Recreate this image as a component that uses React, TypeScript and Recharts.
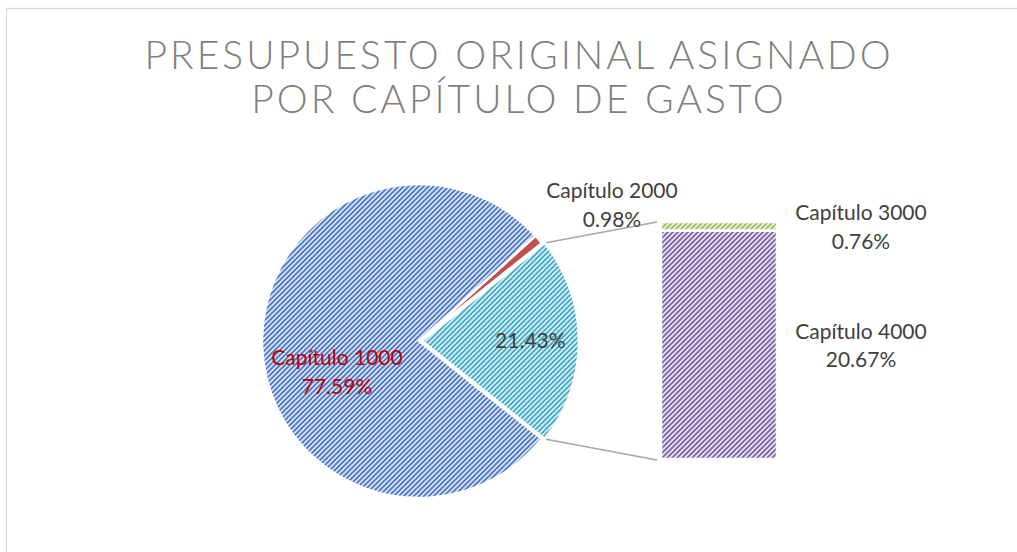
import React from 'react';
import { PieChart, Pie, Cell, BarChart, Bar, XAxis, YAxis, LabelList } from 'recharts';

// main pie slices (the rest goes into the "Otros" slice, split in the bar)
const MAIN_NAMES = ['Capítulo 2000', 'Capítulo 1000'];
const MAIN_VALUES = [0.98, 77.59];
// secondary stacked bar, bottom to top
const SUB_NAMES = ['Capítulo 4000', 'Capítulo 3000'];
const SUB_VALUES = [20.67, 0.76];
const OTHER_NAME = 'Otros';
const TITLE_LINES = ['PRESUPUESTO ORIGINAL ASIGNADO', 'POR CAPÍTULO DE GASTO'];

const W = 1017;
const H = 552;
const PIE_CX = 419;
const PIE_CY = 341;
const PIE_R = 157;
const EXPLODE = 3;
const BAR_LEFT = 661;
const BAR_RIGHT = 777;
const BAR_TOP = 222;
const BAR_BOTTOM = 459;

const FONT = 'Lato, "Noto Sans", sans-serif';
const TEXT = '#404040';

const otherTotal = SUB_VALUES.reduce((a, b) => a + b, 0);
const grandTotal = otherTotal + MAIN_VALUES.reduce((a, b) => a + b, 0);
const pieData = [
  { name: OTHER_NAME, value: otherTotal },
  ...MAIN_NAMES.map((name, i) => ({ name, value: MAIN_VALUES[i] })),
];
const barData = [
  SUB_NAMES.reduce((row: Record<string, number | string>, n, i) => ({ ...row, [n]: SUB_VALUES[i] }), { cat: OTHER_NAME }),
];
// the "Otros" slice is centred on 3 o'clock
const START_ANGLE = -(otherTotal / grandTotal) * 180;

const FILLS: Record<string, string> = {
  'Capítulo 1000': 'url(#hatch-blue)',
  'Capítulo 2000': '#c0504d',
  [OTHER_NAME]: 'url(#hatch-teal)',
  'Capítulo 3000': 'url(#hatch-green)',
  'Capítulo 4000': 'url(#hatch-purple)',
};

// where Excel put the outside / best-fit labels, relative to the pie centre
const LABEL_SPOT: Record<string, { dx: number; dy: number; color: string }> = {
  'Capítulo 1000': { dx: -82, dy: 24, color: '#c00000' },
  'Capítulo 2000': { dx: 193, dy: -143, color: TEXT },
};

const pct = (v: number) => `${((v / grandTotal) * 100).toFixed(2)}%`;

const Hatch = ({ id, bg, fg }: { id: string; bg: string; fg: string }) => (
  <pattern id={id} patternUnits="userSpaceOnUse" width={5} height={5}>
    <rect width={5} height={5} fill={bg} />
    <path d="M-1,1 l2,-2 M0,5 l5,-5 M4,6 l2,-2" stroke={fg} strokeWidth={1.7} />
  </pattern>
);

const TwoLines = ({ x, y, a, b, color }: { x: number; y: number; a: string; b: string; color: string }) => (
  <text x={x} y={y} textAnchor="middle" fill={color} fontSize={21} fontFamily={FONT}>
    <tspan x={x} dy={0}>{a}</tspan>
    <tspan x={x} dy={28.5}>{b}</tspan>
  </text>
);

// eslint-disable-next-line @typescript-eslint/no-explicit-any
const mainLabel = (p: any) => {
  const spot = LABEL_SPOT[p.name];
  if (!spot) return null;
  return <TwoLines x={p.cx + spot.dx} y={p.cy + spot.dy} a={p.name} b={pct(p.value)} color={spot.color} />;
};

// eslint-disable-next-line @typescript-eslint/no-explicit-any
const otherLabel = (p: any) => {
  if (p.name !== OTHER_NAME) return null;
  const r = p.outerRadius * 0.69;
  const rad = (-p.midAngle * Math.PI) / 180;
  return (
    <text x={p.cx + r * Math.cos(rad)} y={p.cy + r * Math.sin(rad) + 7} textAnchor="middle" fill={TEXT} fontSize={21} fontFamily={FONT}>
      {pct(p.value)}
    </text>
  );
};

const barLabel = (name: string) =>
  // eslint-disable-next-line @typescript-eslint/no-explicit-any
  (p: any) => {
    const cy = p.y + p.height / 2;
    return <TwoLines x={p.x + p.width + 84} y={cy - 6} a={name} b={pct(p.value)} color={TEXT} />;
  };

// connector lines from the exploded slice corners to the bar corners
const cornerAngle = (otherTotal / grandTotal) * Math.PI;
const cornerX = PIE_CX + EXPLODE + PIE_R * Math.cos(cornerAngle);
const cornerDy = PIE_R * Math.sin(cornerAngle);

const NO_MARGIN = { top: 0, right: 0, bottom: 0, left: 0 };

export default function App() {
  return (
    <div style={{ position: 'absolute', left: 0, top: 0, width: W, height: H, overflow: 'hidden', background: '#fff' }}>
      <svg width={W} height={H} style={{ position: 'absolute', left: 0, top: 0 }}>
        <defs>
          <Hatch id="hatch-blue" bg="#d9e2f3" fg="#4a76c6" />
          <Hatch id="hatch-teal" bg="#d7eef4" fg="#3fa9c6" />
          <Hatch id="hatch-green" bg="#e8f0da" fg="#9bbb59" />
          <Hatch id="hatch-purple" bg="#e5dfec" fg="#7f62a5" />
        </defs>
        <rect x={6.5} y={8.5} width={W + 20} height={H + 20} fill="none" stroke="#d9d9d9" strokeWidth={1.3} />
        {TITLE_LINES.map((t, i) => (
          <text key={t} x={519} y={69 + i * 44} textAnchor="middle" fill="#7f7f7f" fontSize={39} fontWeight={300} fontFamily={FONT} letterSpacing={3}>
            {t}
          </text>
        ))}
        <line x1={cornerX} y1={PIE_CY - cornerDy} x2={BAR_LEFT - 4} y2={BAR_TOP} stroke="#a6a6a6" strokeWidth={1.5} />
        <line x1={cornerX} y1={PIE_CY + cornerDy} x2={BAR_LEFT - 4} y2={BAR_BOTTOM + 1} stroke="#a6a6a6" strokeWidth={1.5} />
      </svg>
      <div style={{ position: 'absolute', left: 0, top: 0 }}>
        <PieChart width={W} height={H} margin={NO_MARGIN}>
          <Pie
            data={pieData}
            dataKey="value"
            nameKey="name"
            cx={PIE_CX}
            cy={PIE_CY}
            outerRadius={PIE_R}
            startAngle={START_ANGLE}
            endAngle={START_ANGLE + 360}
            label={mainLabel}
            labelLine={false}
            isAnimationActive={false}
          >
            {pieData.map((d) => (
              <Cell
                key={d.name}
                fill={d.name === OTHER_NAME ? 'transparent' : FILLS[d.name]}
                stroke={d.name === OTHER_NAME ? 'none' : '#fff'}
                strokeWidth={2.5}
              />
            ))}
          </Pie>
          <Pie
            data={pieData}
            dataKey="value"
            nameKey="name"
            cx={PIE_CX + EXPLODE}
            cy={PIE_CY}
            outerRadius={PIE_R}
            startAngle={START_ANGLE}
            endAngle={START_ANGLE + 360}
            label={otherLabel}
            labelLine={false}
            isAnimationActive={false}
          >
            {pieData.map((d) => (
              <Cell
                key={d.name}
                fill={d.name === OTHER_NAME ? FILLS[d.name] : 'transparent'}
                stroke={d.name === OTHER_NAME ? '#fff' : 'none'}
                strokeWidth={2.5}
              />
            ))}
          </Pie>
        </PieChart>
      </div>
      <div style={{ position: 'absolute', left: 0, top: 0 }}>
        <BarChart
          width={W}
          height={H}
          data={barData}
          margin={{ top: BAR_TOP, bottom: H - BAR_BOTTOM, left: BAR_LEFT, right: W - BAR_RIGHT }}
          barCategoryGap={0}
        >
          <XAxis dataKey="cat" hide />
          <YAxis hide domain={[0, otherTotal]} />
          {SUB_NAMES.map((n) => (
            <Bar key={n} dataKey={n} stackId="s" fill={FILLS[n]} stroke="#fff" strokeWidth={2.5} isAnimationActive={false}>
              <LabelList dataKey={n} content={barLabel(n)} />
            </Bar>
          ))}
        </BarChart>
      </div>
    </div>
  );
}
